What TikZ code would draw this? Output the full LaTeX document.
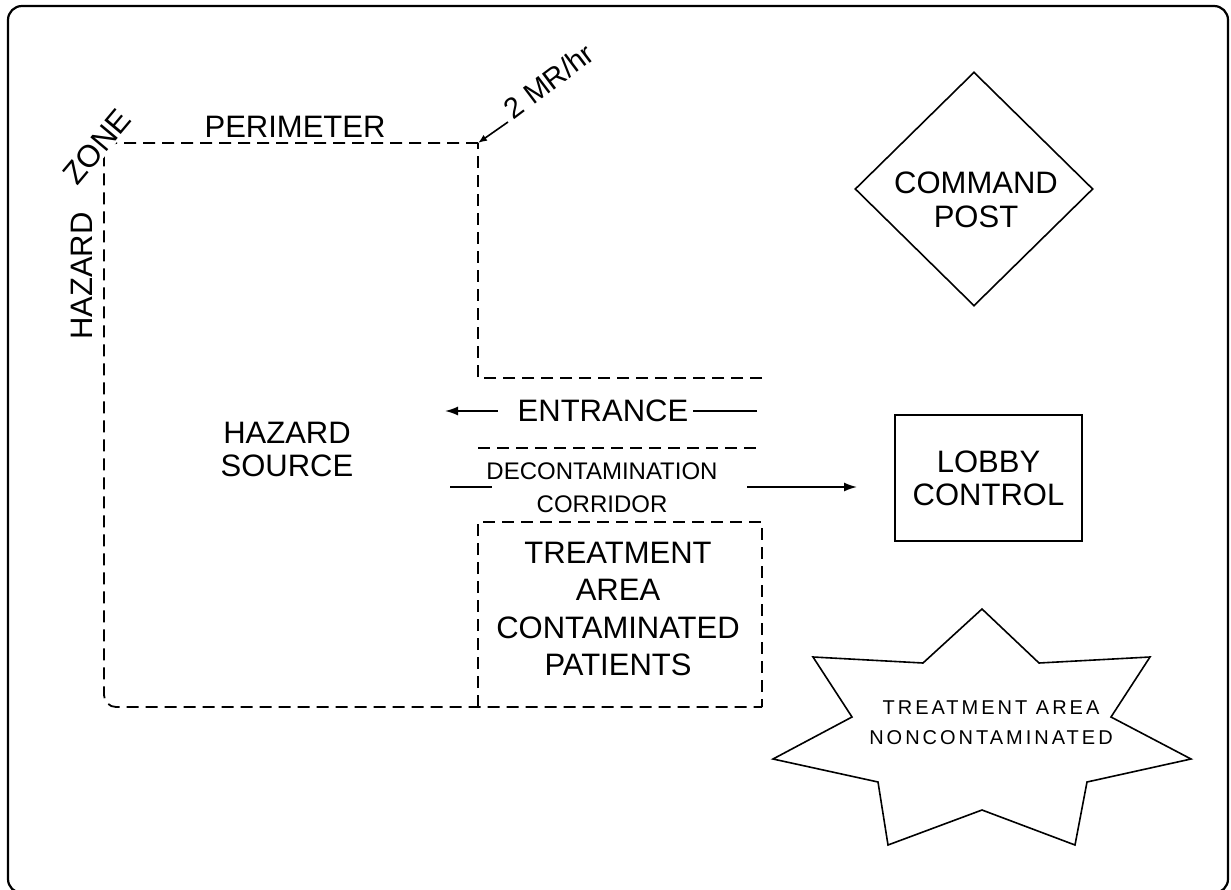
\documentclass[tikz,border=0pt]{standalone}
\usepackage{fontspec}
\setmainfont{Liberation Sans}
\usetikzlibrary{arrows.meta,shapes.geometric}
\tikzset{
  zone/.style={line width=1.8pt, dash pattern=on 12pt off 7pt},
  solidline/.style={line width=1.6pt},
  lbl/.style={font=\fontsize{31}{33}\selectfont, inner sep=0pt, align=center},
  small/.style={font=\fontsize{24}{33}\selectfont, inner sep=0pt, align=center},
  tiny/.style={font=\fontsize{20}{30}\selectfont\addfontfeature{LetterSpace=15}, inner sep=0pt, align=center},
  arr/.style={solidline, -{Latex[length=13pt,width=9pt]}}
}
\begin{document}
\begin{tikzpicture}[x=1pt,y=-1pt]
\useasboundingbox (0,0) rectangle (1231,890);
% outer frame
\draw[line width=2.2pt, rounded corners=14pt] (8,6) rectangle (1228,893);

% hazard zone perimeter
\coordinate (tl) at (104,143);
\coordinate (tr) at (478,143);
\coordinate (ent1) at (478,378);
\coordinate (ent1e) at (762,378);
\coordinate (ent2) at (478,448);
\coordinate (ent2e) at (762,448);
\coordinate (bl) at (104,707);
\coordinate (br) at (762,707);
\draw[zone] (ent1e) -- (ent1) -- (tr);
\draw[zone, rounded corners=12pt] (tr) -- (tl) -- (bl) -- (br);
\draw[zone] (ent2) -- (ent2e);
% contaminated treatment area box
\draw[zone] (478,707) -- (478,522) -- (762,522) -- (762,707);

% labels on perimeter
\node[lbl] (perim) at (295,127) {PERIMETER};
\node[lbl, rotate=90] (hz) at (82,276) {HAZARD};
\node[lbl, rotate=50, fill=white, inner sep=1pt] (zn) at (97,147) {ZONE};
\node[small, font=\fontsize{29}{30}\selectfont, rotate=37, anchor=south west] (mr) at (514,121) {2 MR/hr};
\coordinate (mrs) at (508,122);
\draw[solidline, -{Latex[length=9pt,width=7pt]}] (mrs) -- (tr);

\node[lbl] (src) at (287,449) {HAZARD\\SOURCE};

% entrance
\node[lbl] (ent) at (603,411) {ENTRANCE};
\coordinate (entR) at (757,411);
\coordinate (entL) at (445,411);
\draw[solidline] (entR) -- ([xshift=5pt]ent.east);
\draw[arr] ([xshift=-20pt]ent.west) -- (entL);

% decontamination corridor
\node[small] (dec) at (602,488) {DECONTAMINATION\\CORRIDOR};
\coordinate (decL) at (450,487);
\coordinate (lobbyArr) at (857,487);
\draw[solidline] (decL) -- (492,487);
\draw[arr] (747,487) -- (lobbyArr);

\node[lbl, font=\fontsize{31}{37.5}\selectfont] (tac) at (618,609) {TREATMENT\\AREA\\CONTAMINATED\\PATIENTS};

% lobby control
\node[lbl, draw, line width=1.6pt, minimum width=187pt, minimum height=126pt] (lobby) at (988.5,478) {LOBBY\\CONTROL};

% command post
\node[draw, line width=1.6pt, diamond, minimum width=238pt, minimum height=234pt, aspect=1, inner sep=0pt] (cp) at (974,189) {};
\node[lbl, font=\fontsize{31}{34}\selectfont] (cpt) at (976,200) {COMMAND\\POST};

% star
\draw[line width=1.6pt, line join=miter] (982,609) -- (1039,663) -- (1150,657) -- (1111,717) -- (1191,759) -- (1087,782) -- (1075,845) -- (982,810) -- (888,845) -- (878,782) -- (773,759) -- (852,717) -- (813,657) -- (923,663) -- cycle;
\node[tiny] (star) at (991,723) {TREATMENT AREA\\NONCONTAMINATED};
\end{tikzpicture}
\end{document}
